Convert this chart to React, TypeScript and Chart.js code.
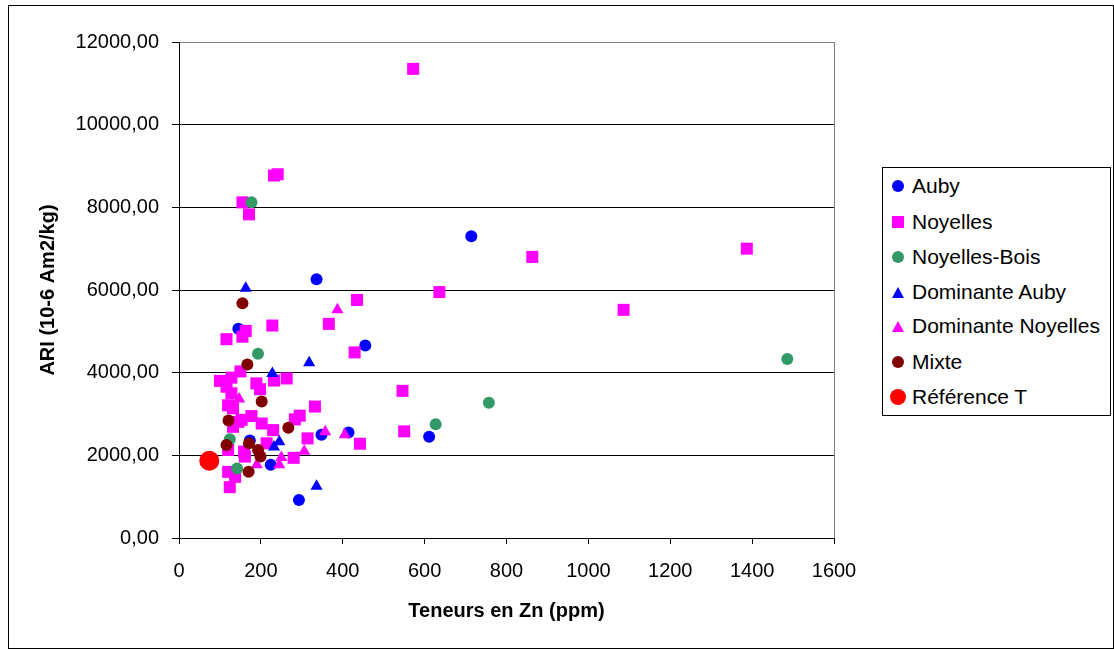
import React, { useEffect, useRef } from 'react';
import { Chart, registerables } from 'chart.js';

Chart.register(...registerables);

// Data: [Zn (ppm), ARI]
const auby: number[][] = [
  [336, 6260], [714, 7300], [145, 5060], [455, 4660], [173, 2360],
  [348, 2500], [414, 2550], [611, 2450], [224, 1770], [293, 920],
];
const noyelles: number[][] = [
  [572, 11350], [232, 8770], [241, 8800], [155, 8120], [171, 7830],
  [863, 6800], [1387, 7000], [636, 5950], [1086, 5520], [435, 5760],
  [163, 5010], [155, 4870], [116, 4810], [228, 5140], [366, 5180],
  [429, 4490], [150, 4030], [128, 3880], [100, 3800], [116, 3660],
  [128, 3500], [189, 3740], [198, 3600], [232, 3810], [263, 3860],
  [120, 3210], [132, 3140], [153, 2860], [177, 2950], [202, 2770],
  [145, 2810], [132, 2690], [230, 2610], [283, 2870], [295, 2960],
  [332, 3180], [314, 2410], [280, 1940], [214, 2290], [442, 2280],
  [546, 3560], [550, 2580], [161, 1970], [159, 2090], [120, 2130],
  [120, 1600], [137, 1480], [124, 1230],
];
const noyellesBois: number[][] = [
  [177, 8120], [193, 4460], [1486, 4330], [757, 3270], [627, 2750],
  [124, 2390], [142, 1680],
];
const dominanteAuby: number[][] = [
  [163, 6040], [318, 4240], [228, 3980], [245, 2330], [232, 2200], [336, 1250],
];
const dominanteNoyelles: number[][] = [
  [387, 5520], [147, 3360], [357, 2570], [405, 2500], [306, 2100],
  [250, 1950], [245, 1770], [190, 1770],
];
const mixte: number[][] = [
  [155, 5680], [167, 4200], [202, 3300], [121, 2840], [267, 2670],
  [116, 2250], [171, 2290], [193, 2130], [199, 1970], [170, 1600],
];
const referenceT: number[][] = [[74, 1870]];

const seriesNames = ['Auby', 'Noyelles', 'Noyelles-Bois', 'Dominante Auby', 'Dominante Noyelles', 'Mixte', 'Référence T'];
const seriesData = [auby, noyelles, noyellesBois, dominanteAuby, dominanteNoyelles, mixte, referenceT];
const seriesColors = ['#0000FF', '#FF00FF', '#339966', '#0000FF', '#FF00FF', '#800000', '#FF0000'];
const seriesShapes = ['circle', 'rect', 'circle', 'triangle', 'triangle', 'circle', 'circle'];
const seriesRadius = [6, 8.5, 6, 7, 7, 6, 10];

const xTitle = 'Teneurs en Zn (ppm)';
const yTitle = 'ARI (10-6 Am2/kg)';

const FONT = "'Liberation Sans', Arial, sans-serif";

function LegendMarker({ shape, color, big }: { shape: string; color: string; big: boolean }) {
  if (shape === 'triangle') {
    return (
      <div style={{ width: 0, height: 0, borderLeft: '6px solid transparent', borderRight: '6px solid transparent', borderBottom: `11px solid ${color}` }} />
    );
  }
  const size = big ? 16 : 12;
  return (
    <div style={{ width: size, height: size, background: color, borderRadius: shape === 'rect' ? 0 : '50%' }} />
  );
}

export default function App() {
  const canvasRef = useRef<HTMLCanvasElement>(null);

  useEffect(() => {
    if (!canvasRef.current) return;
    const n = seriesNames.length;
    const chart = new Chart(canvasRef.current, {
      type: 'scatter',
      data: {
        datasets: seriesNames.map((name, i) => ({
          label: name,
          data: seriesData[i].map(([x, y]) => ({ x, y })),
          backgroundColor: seriesColors[i],
          borderColor: seriesColors[i],
          borderWidth: 0,
          pointStyle: seriesShapes[i] as any,
          pointRadius: seriesRadius[i],
          order: n - i,
        })),
      },
      options: {
        responsive: false,
        animation: false,
        events: [],
        layout: { padding: { left: 0, top: 42, right: 280, bottom: 0 } },
        plugins: { legend: { display: false }, tooltip: { enabled: false } },
        scales: {
          x: {
            type: 'linear',
            min: 0,
            max: 1600,
            afterFit: (s: any) => { s.height = 113; },
            ticks: {
              stepSize: 200,
              color: '#000',
              padding: 15,
              font: { family: FONT, size: 20 },
              maxRotation: 0,
              callback: (v: any) => String(Math.round(Number(v))),
            },
            grid: {
              color: (c: any) => (c.tick && c.tick.value === 1600 ? '#808080' : 'rgba(0,0,0,0)'),
              tickColor: '#000',
              tickLength: 6,
              lineWidth: 1,
            },
            border: { color: '#000', width: 1 },
            title: { display: true, text: xTitle, color: '#000', font: { family: FONT, size: 20, weight: 'bold' }, padding: { top: 0, bottom: 28 } },
          },
          y: {
            type: 'linear',
            min: 0,
            max: 12000,
            afterFit: (s: any) => { s.width = 179; },
            ticks: {
              stepSize: 2000,
              color: '#000',
              padding: 13,
              font: { family: FONT, size: 20 },
              callback: (v: any) => Number(v).toFixed(2).replace('.', ','),
            },
            grid: {
              color: (c: any) => (c.tick && c.tick.value === 12000 ? '#808080' : '#000'),
              tickColor: '#000',
              tickLength: 7,
              lineWidth: 1,
            },
            border: { color: '#000', width: 1 },
            title: { display: true, text: yTitle, color: '#000', font: { family: FONT, size: 20, weight: 'bold' }, padding: { top: 36, bottom: 0 } },
          },
        },
      },
    });
    return () => chart.destroy();
  }, []);

  const legendTops = [186, 222, 257, 292, 326, 362, 397];

  return (
    <div style={{ position: 'absolute', left: 0, top: 0, width: 1114, height: 651, background: '#fff', fontFamily: FONT }}>
      <canvas ref={canvasRef} width={1114} height={651} style={{ position: 'absolute', left: 0, top: 0 }} />
      <div style={{ position: 'absolute', left: 8, top: 5, width: 1104, height: 642, border: '1px solid #000', pointerEvents: 'none' }} />
      <div style={{ position: 'absolute', left: 882, top: 167, width: 227, height: 247, border: '1px solid #000', background: '#fff' }}>
        {seriesNames.map((name, i) => (
          <div key={name} style={{ position: 'absolute', left: 0, top: legendTops[i] - 167 - 1 - 12, height: 24, display: 'flex', alignItems: 'center' }}>
            <div style={{ width: 29, display: 'flex', justifyContent: 'center', alignItems: 'center' }}>
              <LegendMarker shape={seriesShapes[i]} color={seriesColors[i]} big={i === 6} />
            </div>
            <span style={{ fontSize: 21, lineHeight: '24px', color: '#000', whiteSpace: 'nowrap' }}>{name}</span>
          </div>
        ))}
      </div>
    </div>
  );
}
